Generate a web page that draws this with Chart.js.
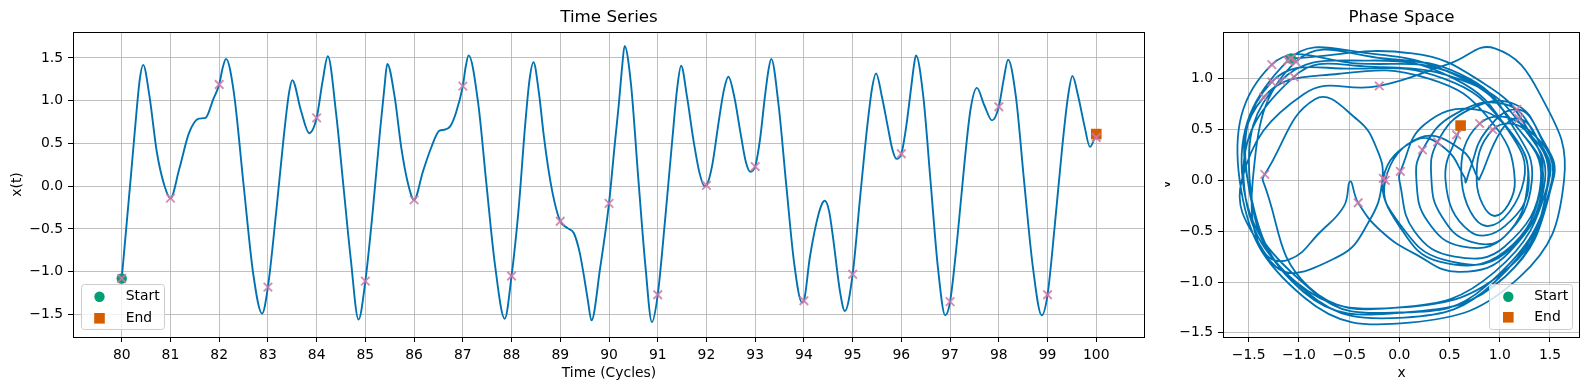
<!DOCTYPE html>
<html><head><meta charset="utf-8">
<script src="https://cdn.jsdelivr.net/npm/chart.js@4.4.0/dist/chart.umd.min.js"></script>
<style>
html,body{margin:0;padding:0;background:#fff;overflow:hidden}
#a{position:absolute;left:0;top:0}
#b{position:absolute;left:1165px;top:0}
</style></head><body>
<canvas id="a" width="1165" height="390"></canvas>
<canvas id="b" width="424" height="390"></canvas>
<script>
// ---- data ----
const timeT = [80.00,80.19,80.30,80.37,80.44,80.57,80.72,80.88,81.00,81.18,81.38,81.58,81.72,81.88,82.00,82.07,82.14,82.30,82.50,82.70,82.88,
83.00,83.17,83.32,83.43,83.50,83.68,83.85,84.00,84.12,84.23,84.40,84.55,84.70,84.86,85.00,85.15,85.30,85.39,85.45,85.60,85.74,85.88,
86.00,86.18,86.35,86.52,86.62,86.74,86.86,87.00,87.06,87.12,87.32,87.48,87.66,87.86,88.00,88.14,88.28,88.37,88.45,88.56,88.66,88.77,88.88,
89.00,89.15,89.28,89.40,89.50,89.57,89.64,89.82,90.00,90.12,90.20,90.27,90.32,90.45,90.60,90.75,90.88,91.00,91.15,91.30,91.40,91.48,
91.60,91.73,91.86,91.96,92.00,92.12,92.25,92.36,92.45,92.57,92.70,92.81,92.90,93.00,93.10,93.20,93.27,93.33,93.48,93.64,93.80,93.96,
94.00,94.12,94.26,94.36,94.43,94.52,94.60,94.74,94.84,95.00,95.15,95.30,95.40,95.48,95.60,95.72,95.82,95.90,96.00,96.10,96.20,96.26,96.30,
96.45,96.60,96.75,96.90,97.00,97.15,97.30,97.42,97.55,97.70,97.86,98.00,98.10,98.19,98.35,98.52,98.70,98.88,99.00,99.15,99.30,99.42,99.51,
99.63,99.76,99.87,100.00];
const timeX = [-1.08,0.13,0.85,1.25,1.42,1.05,0.40,0.00,-0.14,0.20,0.62,0.79,0.80,1.02,1.19,1.38,1.49,1.10,0.02,-1.03,-1.49,
-1.18,-0.30,0.55,1.08,1.24,0.88,0.62,0.80,1.22,1.52,0.85,0.00,-0.85,-1.56,-1.11,-0.30,0.64,1.15,1.43,1.05,0.44,0.02,
-0.16,0.17,0.45,0.65,0.66,0.70,0.86,1.17,1.40,1.53,0.95,0.05,-0.92,-1.55,-1.05,-0.30,0.72,1.25,1.45,1.10,0.60,0.15,-0.18,
-0.41,-0.49,-0.55,-0.78,-1.10,-1.35,-1.57,-0.95,-0.20,0.50,0.95,1.40,1.64,1.20,0.10,-0.95,-1.59,-1.27,-0.40,0.55,1.15,1.41,
1.05,0.55,0.15,0.00,0.01,0.25,0.75,1.13,1.28,1.05,0.62,0.28,0.17,0.23,0.55,1.05,1.35,1.49,0.95,0.00,-0.90,-1.36,
-1.34,-0.84,-0.42,-0.22,-0.17,-0.30,-0.61,-1.23,-1.46,-1.03,-0.15,0.70,1.15,1.32,1.05,0.70,0.42,0.32,0.38,0.70,1.15,1.42,1.53,
1.05,0.05,-0.95,-1.51,-1.35,-0.60,0.30,0.90,1.15,0.95,0.77,0.93,1.25,1.48,1.05,0.05,-0.95,-1.51,-1.27,-0.45,0.45,1.05,1.29,
1.05,0.70,0.46,0.61];
const timeV = [1.20,1.25,0.95,0.55,0.00,-0.70,-0.80,-0.45,0.00,0.42,0.30,0.01,0.02,0.50,0.61,0.40,0.00,-0.85,-1.25,-1.00,0.00,
0.98,1.18,1.00,0.50,0.00,-0.45,0.00,0.56,0.55,0.00,-1.05,-1.30,-1.10,0.00,1.18,1.25,1.00,0.55,0.00,-0.72,-0.78,-0.45,
0.02,0.40,0.32,0.03,-0.02,0.10,0.48,0.70,0.45,0.00,-1.00,-1.35,-1.10,0.00,1.02,1.12,0.95,0.50,0.00,-0.70,-0.90,-0.72,-0.50,
-0.22,-0.01,-0.25,-0.50,-0.78,-0.70,0.00,0.85,0.93,1.15,1.30,0.85,0.00,-0.95,-1.40,-1.15,0.00,1.14,1.15,1.05,0.55,0.00,
-0.65,-0.75,-0.50,0.00,0.09,0.55,0.70,0.45,0.00,-0.55,-0.65,-0.40,0.00,0.30,0.65,0.75,0.45,0.00,-0.90,-1.25,-1.05,0.00,
0.06,0.80,0.60,0.30,0.00,-0.40,-0.75,-0.85,0.00,1.17,1.20,1.00,0.50,0.00,-0.55,-0.60,-0.35,0.00,0.38,0.70,0.75,0.40,0.00,
-0.95,-1.30,-1.10,0.00,0.82,1.05,1.00,0.60,0.00,-0.35,0.00,0.50,0.50,0.00,-0.95,-1.30,-1.10,0.00,0.97,1.10,1.00,0.55,0.00,
-0.45,-0.50,0.00,0.54];

const markerT = [80,81,82,83,84,85,86,87,88,89,90,91,92,93,94,95,96,97,98,99,100];
const markerX = [-1.08,-0.14,1.19,-1.18,0.80,-1.11,-0.16,1.17,-1.05,-0.41,-0.20,-1.27,0.01,0.23,-1.34,-1.03,0.38,-1.35,0.93,-1.27,0.57];
const markerV = [1.20,0.00,0.61,0.98,0.56,1.18,0.02,0.70,1.02,-0.22,0.93,1.14,0.09,0.30,0.06,1.17,0.38,0.82,0.50,0.97,0.45];

const timeXTicks = [80,81,82,83,84,85,86,87,88,89,90,91,92,93,94,95,96,97,98,99,100];
const timeYTicks = [-1.5,-1.0,-0.5,0.0,0.5,1.0,1.5];
const phaseXTicks = [-1.5,-1.0,-0.5,0.0,0.5,1.0,1.5];
const phaseYTicks = [-1.5,-1.0,-0.5,0.0,0.5,1.0];

// ---- styling ----
const BLUE = '#0072B2', PINK = 'rgba(204,121,167,0.85)', GREEN = '#009E73', ORANGE = '#D55E00';
const FONT = 'DejaVu Sans';
const TICKFONT = {family: FONT, size: 13.9};

function fmt(v){ const s = Math.abs(v).toFixed(1); return v < 0 ? '\u2212' + s : s; }
function pts(xs, ys){ return xs.map((x, i) => ({x: x, y: ys[i]})); }

function decoPlugin(cfg){
  return {
    id: 'deco',
    afterDraw(chart){
      const ctx = chart.ctx, a = chart.chartArea;
      ctx.save();
      ctx.strokeStyle = '#000'; ctx.lineWidth = 1;
      ctx.strokeRect(Math.round(a.left) + 0.5, Math.round(a.top) + 0.5, Math.round(a.right - a.left) - 1, Math.round(a.bottom - a.top));
      const L = cfg.legend;
      ctx.globalAlpha = 0.8; ctx.fillStyle = '#fff';
      ctx.beginPath(); ctx.roundRect(L.x, L.y, L.w, L.h, 3); ctx.fill();
      ctx.globalAlpha = 1; ctx.strokeStyle = '#cccccc'; ctx.lineWidth = 1;
      ctx.beginPath(); ctx.roundRect(L.x + 0.5, L.y + 0.5, L.w - 1, L.h - 1, 3); ctx.stroke();
      ctx.fillStyle = GREEN; ctx.beginPath(); ctx.arc(L.mx, L.y1, 5.2, 0, Math.PI * 2); ctx.fill();
      ctx.fillStyle = ORANGE; ctx.fillRect(L.mx - 5.3, L.y2 - 5.3, 10.6, 10.6);
      ctx.fillStyle = '#000'; ctx.font = '13.9px "' + FONT + '"'; ctx.textAlign = 'left'; ctx.textBaseline = 'middle';
      ctx.fillText('Start', L.tx, L.y1); ctx.fillText('End', L.tx, L.y2);
      const cx = (a.left + a.right) / 2, cy = (a.top + a.bottom) / 2;
      ctx.textAlign = 'center';
      ctx.font = '16.7px "' + FONT + '"';
      ctx.fillText(cfg.title, cx, 18);
      ctx.font = '13.9px "' + FONT + '"';
      ctx.fillText(cfg.xlabel, cx, 373);
      ctx.translate(cfg.ylabelX, cy); ctx.rotate(-Math.PI / 2);
      ctx.fillText(cfg.ylabel, 0, 0);
      ctx.restore();
    }
  };
}

function axis(min, max, ticks, fixSize, isX, labelFn){
  return {
    type: 'linear', min: min, max: max,
    afterBuildTicks(s){ s.ticks = ticks.map(v => ({value: v})); },
    afterFit(s){ if (isX) s.height = fixSize; else s.width = fixSize; },
    ticks: {autoSkip: false, maxRotation: 0, padding: 5, color: '#000', font: TICKFONT, callback: labelFn},
    grid: {color: '#b0b0b0', lineWidth: 0.8, tickColor: '#000', tickLength: 5, tickWidth: 1},
    border: {display: false}
  };
}

const common = {
  responsive: false, animation: false, events: [], devicePixelRatio: 1,
  plugins: {legend: {display: false}, tooltip: {enabled: false}, title: {display: false}}
};

new Chart(document.getElementById('a'), {
  type: 'scatter',
  data: {datasets: [
    {data: pts(markerT, markerX), pointStyle: 'crossRot', pointRadius: 6, borderColor: PINK, borderWidth: 1.9, showLine: false, order: 0},
    {data: [{x: timeT[0], y: timeX[0]}], pointStyle: 'circle', pointRadius: 5.2, backgroundColor: GREEN, borderColor: GREEN, borderWidth: 0, order: 1},
    {data: [{x: timeT[timeT.length-1], y: timeX[timeX.length-1]}], pointStyle: 'rect', pointRadius: 7.5, backgroundColor: ORANGE, borderColor: ORANGE, borderWidth: 0, order: 1},
    {data: pts(timeT, timeX), showLine: true, pointRadius: 0, borderColor: BLUE, borderWidth: 1.9, cubicInterpolationMode: 'monotone', fill: false, order: 2}
  ]},
  options: Object.assign({}, common, {
    layout: {padding: {left: 0, top: 32, right: 20, bottom: 0}},
    scales: {
      x: axis(79, 101, timeXTicks, 53, true, v => String(v)),
      y: axis(-1.764, 1.804, timeYTicks, 73, false, v => fmt(v))
    }
  }),
  plugins: [decoPlugin({title: 'Time Series', xlabel: 'Time (Cycles)', ylabel: 'x(t)', ylabelX: 17,
    legend: {x: 81, y: 284, w: 84, h: 46, mx: 99.5, tx: 125.7, y1: 296.7, y2: 318.3}})]
});

new Chart(document.getElementById('b'), {
  type: 'scatter',
  data: {datasets: [
    {data: pts(markerX, markerV), pointStyle: 'crossRot', pointRadius: 6, borderColor: PINK, borderWidth: 1.9, showLine: false, order: 0},
    {data: [{x: timeX[0], y: timeV[0]}], pointStyle: 'circle', pointRadius: 5.2, backgroundColor: GREEN, borderColor: GREEN, borderWidth: 0, order: 1},
    {data: [{x: timeX[timeX.length-1], y: timeV[timeV.length-1]}], pointStyle: 'rect', pointRadius: 7.5, backgroundColor: ORANGE, borderColor: ORANGE, borderWidth: 0, order: 1},
    {data: pts(timeX, timeV), showLine: true, pointRadius: 0, borderColor: BLUE, borderWidth: 1.8, tension: 0.45, fill: false, order: 2}
  ]},
  options: Object.assign({}, common, {
    layout: {padding: {left: 0, top: 32, right: 9, bottom: 0}},
    scales: {
      x: axis(-1.756, 1.799, phaseXTicks, 53, true, v => fmt(v)),
      y: axis(-1.541, 1.461, phaseYTicks, 58, false, v => fmt(v))
    }
  }),
  plugins: [decoPlugin({title: 'Phase Space', xlabel: 'x', ylabel: 'v', ylabelX: 1,
    legend: {x: 324, y: 284, w: 84, h: 46, mx: 343.3, tx: 369.3, y1: 296.7, y2: 317.3}})]
});
</script></body></html>
